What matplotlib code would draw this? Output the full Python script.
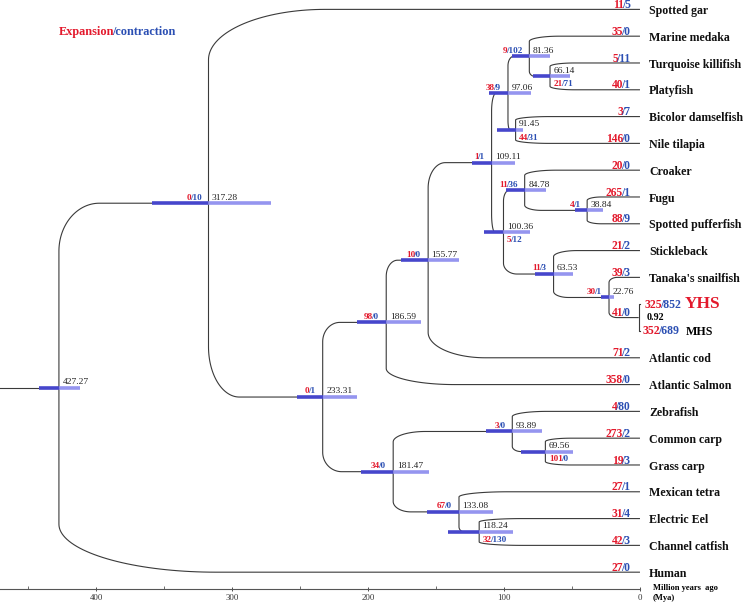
import numpy as np
import matplotlib
matplotlib.use('Agg')
import matplotlib.pyplot as plt

plt.rcParams['font.family'] = 'Liberation Serif'

RED = '#e3192c'
BLUE = '#2b4fb3'
LINE = '#3a3a3a'
BAR_DARK = '#4646cc'
BAR_LIGHT = '#8a8aee'

# tips, top to bottom
tips = ["Spotted gar", "Marine medaka", "Turquoise killifish", "Platyfish",
        "Bicolor damselfish", "Nile tilapia", "Croaker", "Fugu",
        "Spotted pufferfish", "Stickleback", "Tanaka's snailfish", "YHS", "MHS",
        "Atlantic cod", "Atlantic Salmon", "Zebrafish", "Common carp",
        "Grass carp", "Mexican tetra", "Electric Eel", "Channel catfish", "Human"]
tip_gain = [11, 35, 5, 40, 3, 146, 20, 265, 88, 21, 39, 325, 352, 71, 358,
            4, 273, 19, 27, 31, 42, 27]
tip_loss = [5, 0, 11, 1, 7, 0, 0, 1, 9, 2, 3, 852, 689, 2, 0,
            80, 2, 3, 1, 4, 3, 0]

# internal nodes
node_name = ['n427', 'n317', 'n233', 'n187', 'n156', 'n109', 'n97', 'n81',
             'n66', 'n91', 'n100', 'n85', 'n39', 'n64', 'n23', 'n1',
             'n181', 'n94', 'n70', 'n133', 'n118']
node_age = [427.27, 317.28, 233.31, 186.59, 155.77, 109.11, 97.06, 81.36,
            66.14, 91.45, 100.36, 84.78, 38.84, 63.53, 22.76, 0.92,
            181.47, 93.89, 69.56, 133.08, 118.24]
node_kids = [['n317', 'Human'], ['Spotted gar', 'n233'], ['n187', 'n181'],
             ['n156', 'Atlantic Salmon'], ['n109', 'Atlantic cod'],
             ['n97', 'n100'], ['n81', 'n91'], ['Marine medaka', 'n66'],
             ['Turquoise killifish', 'Platyfish'],
             ['Bicolor damselfish', 'Nile tilapia'], ['n85', 'n64'],
             ['Croaker', 'n39'], ['Fugu', 'Spotted pufferfish'],
             ['Stickleback', 'n23'], ["Tanaka's snailfish", 'n1'],
             ['YHS', 'MHS'], ['n94', 'n133'], ['Zebrafish', 'n70'],
             ['Common carp', 'Grass carp'], ['Mexican tetra', 'n118'],
             ['Electric Eel', 'Channel catfish']]
node_gain = [None, 0, 0, 98, 10, 1, 38, 9, 21, 44, 5, 11, 4, 11, 30, 41,
             34, 3, 101, 67, 32]
node_loss = [None, 10, 1, 0, 0, 1, 9, 102, 71, 31, 12, 36, 1, 3, 1, 0,
             0, 0, 0, 0, 130]
node_lab = ['above', 'above', 'above', 'above', 'above', 'above', 'above',
            'above', 'below', 'below', 'below', 'above', 'above', 'above',
            'above', 'end', 'above', 'above', 'below', 'above', 'below']
ci_lo = [411.8, 271.3, 208.1, 161.0, 133.1, 91.9, 80.1, 66.2, 51.5, 86.0,
         80.9, 69.1, 27.2, 49.3, 19.1, None, 155.1, 72.1, 49.3, 108.1, 93.4]
ci_hi = [441.9, 358.8, 252.2, 208.1, 175.7, 123.5, 111.0, 94.1, 78.7, 105.1,
         114.7, 98.5, 47.8, 77.2, 28.7, None, 205.1, 113.2, 87.5, 156.6, 141.2]

ages = {t: 0.0 for t in tips}
ys = {t: float(i) for i, t in enumerate(tips)}
for n, a in zip(node_name, node_age):
    ages[n] = a
kids = dict(zip(node_name, node_kids))


def ypos(n):
    if n not in ys:
        ys[n] = np.mean([ypos(k) for k in kids[n]])
    return ys[n]


for n in node_name:
    ypos(n)

XL = (470.6, -76.5)
fig = plt.figure(figsize=(7.44, 6.03), dpi=100)
ax = fig.add_axes([0, 0, 1, 1])
ax.set_xlim(*XL)
ax.set_ylim(22.15, -0.35)
ax.axis('off')
renderer = fig.canvas.get_renderer()
K = fig.dpi / 72


def measure(s, size):
    t = fig.text(0, 0, s, fontsize=size, fontweight='bold')
    w = t.get_window_extent(renderer).width
    t.remove()
    return w


def put(s, color, size, px, py):
    ax.annotate(s, (px, py), xycoords='figure pixels', color=color, fontsize=size,
                fontweight='bold', ha='left', va='baseline', zorder=5)


def two_tone(xy, head, tail, size, dx, dy, ha='left', coords='data'):
    # red head + blue tail, snapped to whole pixels so they sit like one string
    base = (ax.transData if coords == 'data' else fig.transFigure).transform(xy)
    wf = measure(head + tail, size)
    wt = measure(tail, size)
    x = base[0] + dx * K
    left = round(x - wf if ha == 'right' else x)
    y = base[1] + dy * K
    put(head, RED, size, left, y)
    # measured widths leave a small gap before the slash; pull it back
    put(tail, BLUE, size, left + round(wf - wt - 0.2 * size * K), y)
    return (left + wf - base[0]) / K


# root stem
root = node_name[0]
ax.plot([XL[0], ages[root]], [ys[root]] * 2, color=LINE, lw=0.8, zorder=2)

# branches
for n in node_name:
    xn, yn = ages[n], ys[n]
    if n == 'n1':
        k0, k1 = kids[n]
        ax.plot([0, xn, xn, 0], [ys[k0], ys[k0], ys[k1], ys[k1]],
                color=LINE, lw=0.8, zorder=2)
        continue
    for k in kids[n]:
        xk, yk = ages[k], ys[k]
        rx = 0.27 * (xn - xk)
        ry = 0.26 * abs(yk - yn)
        s = np.sign(yk - yn)
        t = np.linspace(0, np.pi / 2, 40)
        cx = xn - rx * (1 - np.cos(t))
        cy = yk - s * ry * (1 - np.sin(t))
        px = np.concatenate([[xn], cx, [xk]])
        py = np.concatenate([[yn], cy, [yk]])
        ax.plot(px, py, color=LINE, lw=0.8, zorder=2, solid_capstyle='butt')

# confidence bars
for n, lo, hi in zip(node_name, ci_lo, ci_hi):
    if lo is None:
        continue
    ax.plot([hi, ages[n]], [ys[n]] * 2, color=BAR_DARK, lw=2.6,
            solid_capstyle='butt', zorder=3)
    ax.plot([ages[n], lo], [ys[n]] * 2, color=BAR_LIGHT, lw=2.6,
            solid_capstyle='butt', zorder=3, alpha=0.9)

# node labels
for n, g, l, how in zip(node_name, node_gain, node_loss, node_lab):
    xn, yn = ages[n], ys[n]
    if n == 'n1':
        ax.annotate(f'{xn:.2f}', (0, yn), xytext=(4.8, 0), textcoords='offset points',
                    ha='left', va='center', fontsize=7.2, fontweight='bold',
                    color='black', zorder=5)
    else:
        ax.annotate(f'{xn:.2f}', (xn, yn), xytext=(2.5, 2.6), textcoords='offset points',
                    ha='left', va='baseline', fontsize=6.8, color='#222222', zorder=5)
    if g is None:
        continue
    if how == 'above':
        two_tone((xn, yn), str(g), f'/{l}', 6.6, -4.0, 2.6, ha='right')
    elif how == 'below':
        two_tone((xn, yn), str(g), f'/{l}', 6.6, 2.8, -7.0)
    else:
        two_tone((0, yn), str(g), f'/{l}', 8.3, -5.5, 1.0, ha='right')

# tip labels
for name, g, l in zip(tips, tip_gain, tip_loss):
    y = ys[name]
    if name == 'YHS':
        end = two_tone((0, y), str(g), f'/{l}', 8.5, 3.4, -2.8)
        ax.annotate(name, (0, y), xytext=(end + 0.6, -3.0), textcoords='offset points',
                    ha='left', va='baseline', fontsize=12.5, fontweight='bold',
                    color=RED, zorder=5)
        continue
    if name == 'MHS':
        end = two_tone((0, y), str(g), f'/{l}', 8.5, 2.2, -2.2)
        ax.annotate(name, (0, y), xytext=(end + 3.0, -2.8), textcoords='offset points',
                    ha='left', va='baseline', fontsize=8.6, fontweight='bold',
                    color='black', zorder=5)
        continue
    two_tone((0, y), str(g), f'/{l}', 8.3, -5.5, 1.0, ha='right')
    ax.annotate(name, (0, y), xytext=(6.5, -3.3), textcoords='offset points',
                ha='left', va='baseline', fontsize=8.6, fontweight='bold',
                color='#111111')

# legend text
two_tone((59 / 744, 1 - 35 / 603), 'Expansion', '/contraction', 8.8, 0, 0,
         coords='figure')

# time axis
tax = fig.add_axes([0, 1 - 589 / 603, 640 / 744, 0.0001])
tax.set_xlim(XL[0], 0)
tax.patch.set_visible(False)
for sp in ['top', 'left', 'right']:
    tax.spines[sp].set_visible(False)
tax.spines['bottom'].set_color('#555555')
tax.spines['bottom'].set_linewidth(0.8)
tax.set_yticks([])
tax.set_xticks([400, 300, 200, 100, 0])
tax.set_xticks([450, 350, 250, 150, 50], minor=True)
tax.tick_params(axis='x', which='major', direction='inout', length=3, width=0.6,
                labelsize=6.3, pad=2.2, colors='#333333')
tax.tick_params(axis='x', which='minor', direction='in', length=2, width=0.6,
                colors='#555555')
fig.text(653 / 744, 1 - 588 / 603, 'Million years  ago', fontsize=6.1,
         fontweight='bold', va='center', ha='left')
fig.text(653 / 744, 1 - 598 / 603, '(Mya)', fontsize=6.1,
         fontweight='bold', va='center', ha='left')

fig.savefig('out.png', dpi=100)
